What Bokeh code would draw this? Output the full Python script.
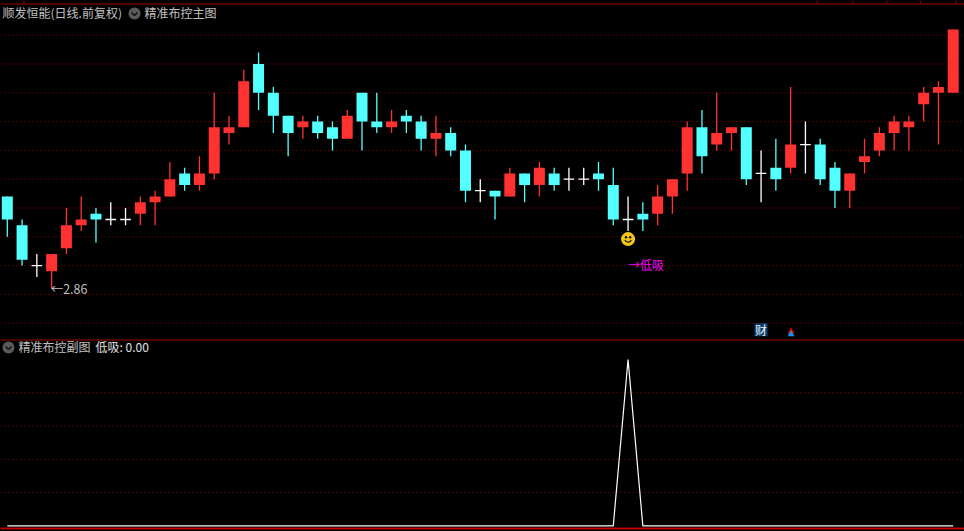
from bokeh.plotting import figure
from bokeh.layouts import column
from bokeh.models import Label, Range1d, Span
from bokeh.embed import file_html
from bokeh.resources import INLINE

opens  = [3.02,2.97,2.90,2.89,2.93,2.97,2.99,2.98,2.98,2.99,3.01,3.02,3.06,3.04,3.06,3.13,3.14,3.25,3.20,3.16,3.14,3.15,
          3.14,3.12,3.20,3.15,3.14,3.16,3.15,3.12,3.13,3.10,3.03,3.03,3.02,3.06,3.04,3.06,3.05,3.05,3.06,3.04,2.98,
          2.99,2.99,3.02,3.06,3.14,3.11,3.13,3.14,3.06,3.07,3.07,3.11,3.11,3.07,3.03,3.08,3.10,3.13,3.14,3.18,3.20,3.20]
highs  = [3.02,2.98,2.92,2.92,3.00,3.02,3.00,3.01,3.00,3.02,3.03,3.08,3.07,3.09,3.20,3.16,3.24,3.27,3.21,3.16,3.16,3.16,
          3.15,3.17,3.20,3.20,3.17,3.17,3.16,3.16,3.14,3.11,3.05,3.03,3.07,3.06,3.08,3.07,3.07,3.07,3.08,3.07,3.02,
          3.01,3.04,3.05,3.15,3.17,3.20,3.14,3.14,3.10,3.12,3.21,3.15,3.12,3.08,3.06,3.12,3.14,3.16,3.16,3.21,3.22,3.31]
lows   = [2.95,2.90,2.88,2.86,2.92,2.96,2.94,2.97,2.97,2.97,2.97,3.02,3.03,3.03,3.05,3.11,3.14,3.17,3.13,3.09,3.12,3.12,
          3.10,3.12,3.10,3.13,3.13,3.13,3.10,3.09,3.09,3.01,3.01,2.98,3.02,3.01,3.02,3.03,3.03,3.04,3.03,2.97,2.96,
          2.96,2.97,2.99,3.03,3.06,3.10,3.10,3.04,3.01,3.03,3.06,3.06,3.04,3.00,3.00,3.06,3.09,3.10,3.10,3.15,3.11,3.20]
closes = [2.98,2.91,2.90,2.92,2.97,2.98,2.98,2.98,2.98,3.01,3.02,3.05,3.04,3.06,3.14,3.14,3.22,3.20,3.16,3.13,3.15,3.13,
          3.12,3.16,3.15,3.14,3.15,3.15,3.12,3.13,3.10,3.03,3.03,3.02,3.06,3.04,3.07,3.04,3.05,3.05,3.05,2.98,2.98,
          2.98,3.02,3.05,3.14,3.09,3.13,3.14,3.05,3.06,3.05,3.11,3.11,3.05,3.03,3.06,3.09,3.13,3.15,3.15,3.20,3.21,3.31]
signal = [0.0] * 42 + [1.0] + [0.0] * 22

price_grid = [3.30,3.25,3.20,3.15,3.10,3.05,3.00,2.95,2.90,2.85,2.80]
signal_grid = [0.8,0.6,0.4,0.2]
top_ticks = [1.13,54.8,57.2,59.5,61.8,64.2]

title_main = "顺发恒能(日线.前复权)"
title_formula = "精准布控主图"
title_sub = "精准布控副图"
title_value = "低吸: 0.00"

RED, CYAN, WHITE = "#ff3232", "#54ffff", "#ffffff"
GRID, FRAME, GREY = "#a00000", "#a00000", "#c0c0c0"
FONT = "Noto Sans CJK SC"
W, H = 964, 531
X0, XPX = -0.46, 14.78
P_TOP, P_PX = 3.3602, 576.0

p = figure(width=W, height=H, x_range=Range1d(X0, X0 + W / XPX),
           y_range=Range1d(P_TOP - H / P_PX, P_TOP),
           output_backend="svg", toolbar_location=None, min_border=0,
           background_fill_color="#000000", border_fill_color="#000000",
           x_axis_location=None, y_axis_location=None, outline_line_color=None)
p.grid.visible = False
p.extra_y_ranges = {"signal": Range1d(-0.034, 3.1588)}

to_x = lambda px: X0 + px / XPX
to_y = lambda py: P_TOP - py / P_PX

for v in price_grid:
    p.add_layout(Span(location=v, dimension="width", line_color=GRID, line_width=1, line_dash="1 3", level="underlay"))
for v in signal_grid:
    p.add_layout(Span(location=v, dimension="width", y_range_name="signal", line_color=GRID,
                      line_width=1, line_dash="1 3", level="underlay"))

# candles
n = len(opens)
for kind, col in (("up", RED), ("down", CYAN), ("flat", WHITE)):
    ids = [i for i in range(n)
           if (kind == "up" and closes[i] > opens[i])
           or (kind == "down" and closes[i] < opens[i])
           or (kind == "flat" and closes[i] == opens[i])]
    p.segment(ids, [highs[i] for i in ids], ids, [lows[i] for i in ids], line_color=col, line_width=1.3)
    if kind == "flat":
        p.segment([i - 0.36 for i in ids], [opens[i] for i in ids],
                  [i + 0.36 for i in ids], [closes[i] for i in ids],
                  line_color=col, line_width=1.3)
    else:
        p.quad(left=[i - 0.372 for i in ids], right=[i + 0.372 for i in ids],
               top=[max(opens[i], closes[i]) for i in ids],
               bottom=[min(opens[i], closes[i]) for i in ids],
               fill_color=col, line_color=None)

# frame lines
p.add_layout(Span(location=to_y(3.5), dimension="width", line_color=FRAME, line_width=1))
p.segment(top_ticks, [to_y(3.5)] * len(top_ticks), top_ticks, [P_TOP] * len(top_ticks), line_color=FRAME, line_width=1)
p.add_layout(Span(location=to_y(339.5), dimension="width", line_color=FRAME, line_width=1))

def label(sx, sy, text, color=GREY):
    p.add_layout(Label(x=sx, y=H - sy, x_units="screen", y_units="screen", text=text,
                       text_color=color, text_font=FONT, text_font_size="12px", text_baseline="middle"))

def icon(sx, sy):
    p.scatter([to_x(sx)], [to_y(sy)], size=12, marker="circle", fill_color="#5a5a5a", line_color=None)
    p.line([to_x(sx - 3), to_x(sx), to_x(sx + 3)], [to_y(sy - 1), to_y(sy + 2), to_y(sy - 1)],
           line_color="#141414", line_width=1.6)

label(2, 12, title_main)
icon(134, 13)
label(144, 12, title_formula)
label(18, 346, title_sub)
icon(8, 347)
label(95, 346, title_value, color="#e0e0e0")

# low mark
low_i = lows.index(min(lows))
p.text([low_i], [min(lows)], text=["←" + f"{min(lows):.2f}"], text_color=GREY, text_font_size="12.5px",
       text_baseline="middle", text_font={"value": FONT}, x_offset=-1, y_offset=0)

# smiley at the signal bar
sig_i = signal.index(max(signal))
SMILE_Y = 2.946
p.scatter([sig_i], [SMILE_Y], size=14, marker="circle", fill_color="#f0c814", line_color=None)
p.scatter([sig_i - 0.14, sig_i + 0.14], [SMILE_Y + 0.003] * 2, size=2.5, marker="circle", fill_color="#201000", line_color=None)
p.arc([sig_i], [SMILE_Y + 0.001], radius=0.24, start_angle=3.54, end_angle=5.88, line_color="#201000", line_width=1.2)

# signal text
p.text([sig_i], [2.9015], text=["→低吸"], text_color="#ff00ff", text_font_size="12px",
       text_baseline="middle", text_font={"value": FONT})

# 财 badge and the small arrow
CAI_I, ARROW_I = 51.0, 53.03
p.quad(left=[CAI_I - 0.44], right=[CAI_I + 0.44], top=[2.8], bottom=[2.7773], fill_color="#0a3a6a", line_color=None)
p.text([CAI_I], [2.7885], text=["财"], text_color="#e8f4ff", text_font_size="12px",
       text_align="center", text_baseline="middle", text_font={"value": FONT})
p.scatter([ARROW_I], [2.7857], size=7, marker="triangle", fill_color="#e00000", line_color=None)
p.scatter([ARROW_I], [2.7807], size=7, marker="triangle", fill_color="#2090f0", line_color=None)

# sub panel
p.line(list(range(n)), signal, y_range_name="signal", line_color=WHITE, line_width=1.2)
p.add_layout(Span(location=-0.0165, dimension="width", y_range_name="signal", line_color="#c00000", line_width=2))

root = column(p, spacing=0, width=W, height=H,
              styles={"position": "fixed", "left": "0", "top": "0", "background-color": "#000000"})
open("out.html", "w").write(file_html(root, INLINE))
